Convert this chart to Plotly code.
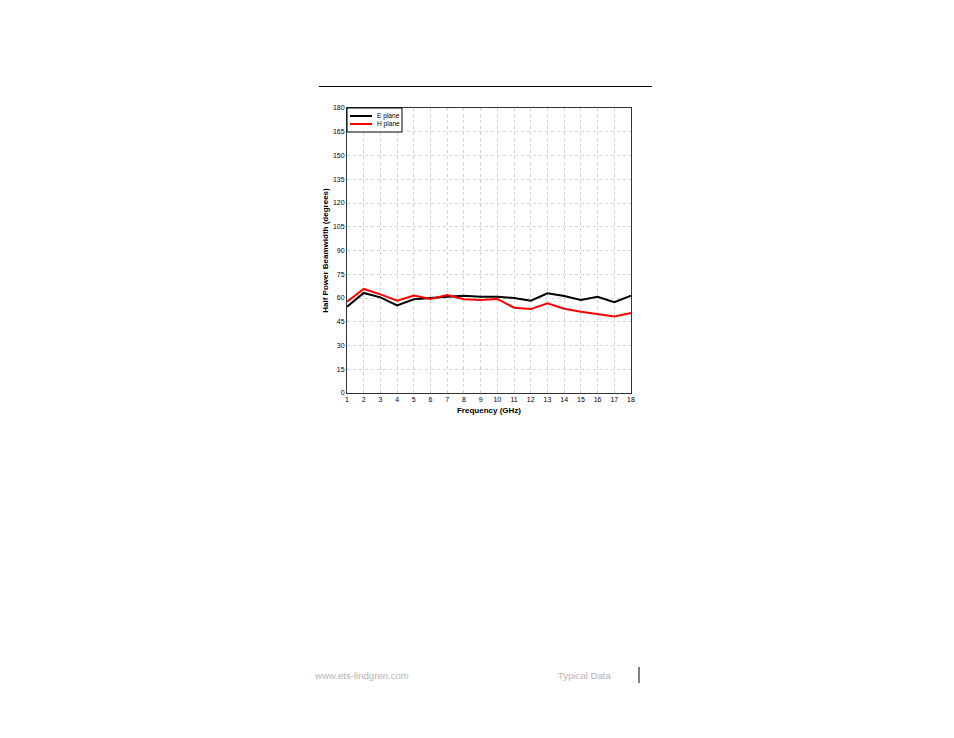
import plotly.graph_objects as go

freq_ghz = list(range(1, 19))
e_plane = [54.5, 63.2, 60.4, 55.3, 59.2, 59.8, 60.8, 61.5, 60.8, 60.8, 60.0, 58.3, 63.0, 61.3, 58.7, 60.8, 57.3, 61.5]
h_plane = [57.7, 65.7, 62.3, 58.3, 61.5, 59.4, 61.9, 59.2, 58.7, 59.4, 53.9, 53.0, 56.6, 53.2, 51.3, 49.9, 48.4, 50.5]
y_ticks = list(range(0, 181, 15))
series_names = ["E plane", "H plane"]
series_colors = ["black", "#ff0000"]

FONT = "Liberation Sans, Arial, sans-serif"

fig = go.Figure()
for name, vals, col in zip(series_names, [e_plane, h_plane], series_colors):
    fig.add_trace(go.Scatter(x=freq_ghz, y=vals, mode="lines", name=name,
                             line=dict(color=col, width=2)))

# target pixel positions of the plot area on the page
L, R, T, B = 347, 631, 108, 393
W, H = 954, 738
OFF = 8  # body margin of the html page

fig.update_layout(
    width=W, height=H,
    margin=dict(l=L - OFF, r=W - (R - OFF), t=T - OFF, b=H - (B - OFF), pad=0),
    paper_bgcolor="white", plot_bgcolor="white",
    font=dict(family=FONT, size=7, color="black"),
    showlegend=False,
    xaxis=dict(range=[1, 18], tickmode="array", tickvals=freq_ghz,
               showgrid=True, gridcolor="#d2d2d2", gridwidth=1, griddash="dot",
               showline=True, linecolor="#333333", linewidth=1, mirror=True,
               zeroline=False, ticks="", tickfont=dict(size=7),
               title=dict(text="<b>Frequency (GHz)</b>", font=dict(size=8), standoff=4)),
    yaxis=dict(range=[0, 180], tickmode="array", tickvals=y_ticks,
               showgrid=True, gridcolor="#d2d2d2", gridwidth=1, griddash="dot",
               showline=True, linecolor="#333333", linewidth=1, mirror=True,
               zeroline=False, ticks="", tickfont=dict(size=7),
               title=dict(text="<b>Half Power Beamwidth (degrees)</b>", font=dict(size=8), standoff=3)),
)

def px_x(p):
    return (p - L) / (R - L)

def px_y(p):
    return (B - p) / (B - T)

# manual legend box
fig.add_shape(type="rect", xref="paper", yref="paper",
              x0=px_x(347), x1=px_x(402), y0=px_y(132), y1=px_y(108),
              fillcolor="white", line=dict(color="black", width=1), layer="above")
for i, (name, col) in enumerate(zip(series_names, series_colors)):
    yy = 116 + 8 * i
    fig.add_shape(type="line", xref="paper", yref="paper",
                  x0=px_x(350), x1=px_x(372), y0=px_y(yy), y1=px_y(yy),
                  line=dict(color=col, width=2), layer="above")
    fig.add_annotation(text=name, xref="paper", yref="paper",
                       x=px_x(375), y=px_y(yy), xanchor="left", yanchor="middle",
                       showarrow=False, font=dict(size=6.6, color="black", family=FONT))

# top rule
fig.add_shape(type="line", xref="paper", yref="paper",
              x0=px_x(319), x1=px_x(652), y0=px_y(86.5), y1=px_y(86.5),
              line=dict(color="black", width=1))
# footer vertical bar
fig.add_shape(type="line", xref="paper", yref="paper",
              x0=px_x(639), x1=px_x(639), y0=px_y(667), y1=px_y(683),
              line=dict(color="black", width=1))
# footer texts
fig.add_annotation(text="www.ets-lindgren.com", xref="paper", yref="paper",
                   x=px_x(312), y=px_y(675), xanchor="left", yanchor="middle",
                   showarrow=False, font=dict(size=9.6, color="#b4b4b4", family=FONT))
fig.add_annotation(text="Typical Data", xref="paper", yref="paper",
                   x=px_x(556), y=px_y(675), xanchor="left", yanchor="middle",
                   showarrow=False, font=dict(size=9.6, color="#b4b4b4", family=FONT))

fig.write_html("out.html")
